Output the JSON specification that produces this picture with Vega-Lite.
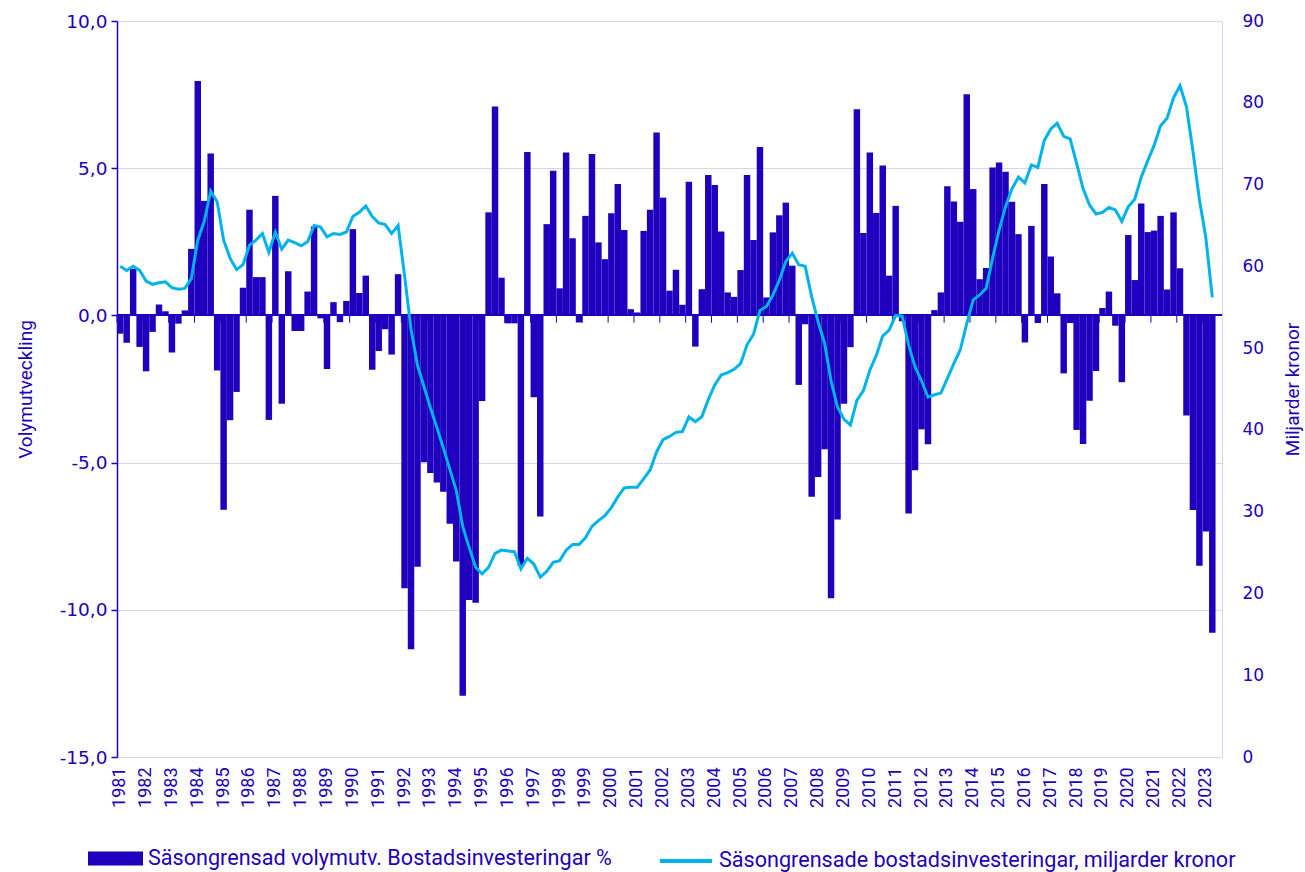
{
"$schema":"https://vega.github.io/schema/vega-lite/v6.json",
"width":1105,"height":736,
"autosize":{"type":"none"},
"padding":{"left":117,"top":21,"right":83,"bottom":115},
"background":"white",
"config":{"view":{"stroke":null},"font":"Roboto"},
"data":{"values":[
{"q":"1981Q1","v":-0.62,"m":60.0},{"q":"1981Q2","v":-0.93,"m":59.5},{"q":"1981Q3","v":1.58,"m":60.0},{"q":"1981Q4","v":-1.07,"m":59.5},
{"q":"1982Q1","v":-1.90,"m":58.2},{"q":"1982Q2","v":-0.56,"m":57.8},{"q":"1982Q3","v":0.37,"m":58.0},{"q":"1982Q4","v":0.14,"m":58.1},
{"q":"1983Q1","v":-1.26,"m":57.4},{"q":"1983Q2","v":-0.28,"m":57.2},{"q":"1983Q3","v":0.17,"m":57.3},{"q":"1983Q4","v":2.26,"m":58.5},
{"q":"1984Q1","v":7.96,"m":63.2},{"q":"1984Q2","v":3.89,"m":65.5},{"q":"1984Q3","v":5.50,"m":69.2},{"q":"1984Q4","v":-1.87,"m":67.9},
{"q":"1985Q1","v":-6.60,"m":63.2},{"q":"1985Q2","v":-3.56,"m":61.0},{"q":"1985Q3","v":-2.60,"m":59.6},{"q":"1985Q4","v":0.94,"m":60.2},
{"q":"1986Q1","v":3.59,"m":62.6},{"q":"1986Q2","v":1.30,"m":63.2},{"q":"1986Q3","v":1.30,"m":64.0},{"q":"1986Q4","v":-3.55,"m":61.7},
{"q":"1987Q1","v":4.06,"m":64.2},{"q":"1987Q2","v":-3.00,"m":62.1},{"q":"1987Q3","v":1.50,"m":63.2},{"q":"1987Q4","v":-0.53,"m":62.9},
{"q":"1988Q1","v":-0.53,"m":62.5},{"q":"1988Q2","v":0.81,"m":63.0},{"q":"1988Q3","v":3.02,"m":65.0},{"q":"1988Q4","v":-0.10,"m":64.8},
{"q":"1989Q1","v":-1.82,"m":63.6},{"q":"1989Q2","v":0.45,"m":64.0},{"q":"1989Q3","v":-0.23,"m":63.9},{"q":"1989Q4","v":0.49,"m":64.2},
{"q":"1990Q1","v":2.93,"m":66.1},{"q":"1990Q2","v":0.76,"m":66.6},{"q":"1990Q3","v":1.35,"m":67.4},{"q":"1990Q4","v":-1.85,"m":66.1},
{"q":"1991Q1","v":-1.21,"m":65.3},{"q":"1991Q2","v":-0.47,"m":65.1},{"q":"1991Q3","v":-1.33,"m":64.0},{"q":"1991Q4","v":1.40,"m":65.0},
{"q":"1992Q1","v":-9.27,"m":58.9},{"q":"1992Q2","v":-11.34,"m":52.3},{"q":"1992Q3","v":-8.54,"m":47.9},{"q":"1992Q4","v":-4.99,"m":45.3},
{"q":"1993Q1","v":-5.35,"m":42.7},{"q":"1993Q2","v":-5.68,"m":40.3},{"q":"1993Q3","v":-5.99,"m":37.8},{"q":"1993Q4","v":-7.08,"m":35.2},
{"q":"1994Q1","v":-8.36,"m":32.6},{"q":"1994Q2","v":-12.92,"m":28.2},{"q":"1994Q3","v":-9.67,"m":25.6},{"q":"1994Q4","v":-9.76,"m":23.2},
{"q":"1995Q1","v":-2.91,"m":22.4},{"q":"1995Q2","v":3.50,"m":23.2},{"q":"1995Q3","v":7.10,"m":24.9},{"q":"1995Q4","v":1.28,"m":25.3},
{"q":"1996Q1","v":-0.27,"m":25.2},{"q":"1996Q2","v":-0.27,"m":25.1},{"q":"1996Q3","v":-8.50,"m":23.0},{"q":"1996Q4","v":5.55,"m":24.3},
{"q":"1997Q1","v":-2.78,"m":23.6},{"q":"1997Q2","v":-6.83,"m":22.0},{"q":"1997Q3","v":3.10,"m":22.7},{"q":"1997Q4","v":4.91,"m":23.8},
{"q":"1998Q1","v":0.92,"m":24.0},{"q":"1998Q2","v":5.53,"m":25.3},{"q":"1998Q3","v":2.62,"m":26.0},{"q":"1998Q4","v":-0.24,"m":26.0},
{"q":"1999Q1","v":3.38,"m":26.8},{"q":"1999Q2","v":5.48,"m":28.2},{"q":"1999Q3","v":2.48,"m":28.9},{"q":"1999Q4","v":1.91,"m":29.5},
{"q":"2000Q1","v":3.47,"m":30.5},{"q":"2000Q2","v":4.46,"m":31.8},{"q":"2000Q3","v":2.90,"m":32.9},{"q":"2000Q4","v":0.21,"m":33.0},
{"q":"2001Q1","v":0.10,"m":33.0},{"q":"2001Q2","v":2.87,"m":34.0},{"q":"2001Q3","v":3.59,"m":35.1},{"q":"2001Q4","v":6.21,"m":37.3},
{"q":"2002Q1","v":4.00,"m":38.8},{"q":"2002Q2","v":0.84,"m":39.2},{"q":"2002Q3","v":1.55,"m":39.7},{"q":"2002Q4","v":0.36,"m":39.8},
{"q":"2003Q1","v":4.54,"m":41.6},{"q":"2003Q2","v":-1.06,"m":41.0},{"q":"2003Q3","v":0.89,"m":41.6},{"q":"2003Q4","v":4.77,"m":43.7},
{"q":"2004Q1","v":4.43,"m":45.5},{"q":"2004Q2","v":2.85,"m":46.7},{"q":"2004Q3","v":0.78,"m":47.0},{"q":"2004Q4","v":0.63,"m":47.4},
{"q":"2005Q1","v":1.54,"m":48.1},{"q":"2005Q2","v":4.77,"m":50.4},{"q":"2005Q3","v":2.56,"m":51.7},{"q":"2005Q4","v":5.72,"m":54.6},
{"q":"2006Q1","v":0.61,"m":55.1},{"q":"2006Q2","v":2.82,"m":56.5},{"q":"2006Q3","v":3.40,"m":58.3},{"q":"2006Q4","v":3.83,"m":60.6},
{"q":"2007Q1","v":1.69,"m":61.6},{"q":"2007Q2","v":-2.36,"m":60.2},{"q":"2007Q3","v":-0.30,"m":60.0},{"q":"2007Q4","v":-6.16,"m":56.3},
{"q":"2008Q1","v":-5.49,"m":53.2},{"q":"2008Q2","v":-4.55,"m":50.6},{"q":"2008Q3","v":-9.61,"m":46.0},{"q":"2008Q4","v":-6.93,"m":42.8},
{"q":"2009Q1","v":-3.00,"m":41.3},{"q":"2009Q2","v":-1.08,"m":40.6},{"q":"2009Q3","v":7.00,"m":43.6},{"q":"2009Q4","v":2.80,"m":44.8},
{"q":"2010Q1","v":5.53,"m":47.3},{"q":"2010Q2","v":3.48,"m":49.1},{"q":"2010Q3","v":5.09,"m":51.5},{"q":"2010Q4","v":1.35,"m":52.2},
{"q":"2011Q1","v":3.72,"m":54.0},{"q":"2011Q2","v":-0.20,"m":53.9},{"q":"2011Q3","v":-6.73,"m":50.4},{"q":"2011Q4","v":-5.26,"m":47.7},
{"q":"2012Q1","v":-3.87,"m":46.0},{"q":"2012Q2","v":-4.38,"m":44.0},{"q":"2012Q3","v":0.18,"m":44.3},{"q":"2012Q4","v":0.78,"m":44.5},
{"q":"2013Q1","v":4.39,"m":46.3},{"q":"2013Q2","v":3.87,"m":48.1},{"q":"2013Q3","v":3.18,"m":49.8},{"q":"2013Q4","v":7.51,"m":53.0},
{"q":"2014Q1","v":4.29,"m":55.9},{"q":"2014Q2","v":1.23,"m":56.5},{"q":"2014Q3","v":1.61,"m":57.3},{"q":"2014Q4","v":5.02,"m":61.0},
{"q":"2015Q1","v":5.19,"m":64.4},{"q":"2015Q2","v":4.88,"m":67.3},{"q":"2015Q3","v":3.86,"m":69.5},{"q":"2015Q4","v":2.76,"m":70.9},
{"q":"2016Q1","v":-0.92,"m":70.2},{"q":"2016Q2","v":3.04,"m":72.4},{"q":"2016Q3","v":-0.26,"m":72.1},{"q":"2016Q4","v":4.46,"m":75.4},
{"q":"2017Q1","v":2.00,"m":76.8},{"q":"2017Q2","v":0.75,"m":77.5},{"q":"2017Q3","v":-1.97,"m":75.9},{"q":"2017Q4","v":-0.26,"m":75.6},
{"q":"2018Q1","v":-3.89,"m":72.6},{"q":"2018Q2","v":-4.37,"m":69.5},{"q":"2018Q3","v":-2.90,"m":67.5},{"q":"2018Q4","v":-1.89,"m":66.4},
{"q":"2019Q1","v":0.25,"m":66.6},{"q":"2019Q2","v":0.81,"m":67.2},{"q":"2019Q3","v":-0.35,"m":66.9},{"q":"2019Q4","v":-2.27,"m":65.5},
{"q":"2020Q1","v":2.73,"m":67.3},{"q":"2020Q2","v":1.20,"m":68.2},{"q":"2020Q3","v":3.80,"m":70.9},{"q":"2020Q4","v":2.83,"m":72.9},
{"q":"2021Q1","v":2.88,"m":74.8},{"q":"2021Q2","v":3.38,"m":77.2},{"q":"2021Q3","v":0.88,"m":78.1},{"q":"2021Q4","v":3.50,"m":80.6},
{"q":"2022Q1","v":1.60,"m":82.1},{"q":"2022Q2","v":-3.40,"m":79.5},{"q":"2022Q3","v":-6.61,"m":74.1},{"q":"2022Q4","v":-8.50,"m":68.2},
{"q":"2023Q1","v":-7.34,"m":63.5},{"q":"2023Q2","v":-10.78,"m":56.2},{"q":"2023Q3"}
]},
"layer":[
{"layer":[
{"mark":{"type":"bar"},
"encoding":{
"x":{"field":"q","type":"ordinal",
"scale":{"domain":["1981Q1","1981Q2","1981Q3","1981Q4","1982Q1","1982Q2","1982Q3","1982Q4","1983Q1","1983Q2","1983Q3","1983Q4","1984Q1","1984Q2","1984Q3","1984Q4","1985Q1","1985Q2","1985Q3","1985Q4","1986Q1","1986Q2","1986Q3","1986Q4","1987Q1","1987Q2","1987Q3","1987Q4","1988Q1","1988Q2","1988Q3","1988Q4","1989Q1","1989Q2","1989Q3","1989Q4","1990Q1","1990Q2","1990Q3","1990Q4","1991Q1","1991Q2","1991Q3","1991Q4","1992Q1","1992Q2","1992Q3","1992Q4","1993Q1","1993Q2","1993Q3","1993Q4","1994Q1","1994Q2","1994Q3","1994Q4","1995Q1","1995Q2","1995Q3","1995Q4","1996Q1","1996Q2","1996Q3","1996Q4","1997Q1","1997Q2","1997Q3","1997Q4","1998Q1","1998Q2","1998Q3","1998Q4","1999Q1","1999Q2","1999Q3","1999Q4","2000Q1","2000Q2","2000Q3","2000Q4","2001Q1","2001Q2","2001Q3","2001Q4","2002Q1","2002Q2","2002Q3","2002Q4","2003Q1","2003Q2","2003Q3","2003Q4","2004Q1","2004Q2","2004Q3","2004Q4","2005Q1","2005Q2","2005Q3","2005Q4","2006Q1","2006Q2","2006Q3","2006Q4","2007Q1","2007Q2","2007Q3","2007Q4","2008Q1","2008Q2","2008Q3","2008Q4","2009Q1","2009Q2","2009Q3","2009Q4","2010Q1","2010Q2","2010Q3","2010Q4","2011Q1","2011Q2","2011Q3","2011Q4","2012Q1","2012Q2","2012Q3","2012Q4","2013Q1","2013Q2","2013Q3","2013Q4","2014Q1","2014Q2","2014Q3","2014Q4","2015Q1","2015Q2","2015Q3","2015Q4","2016Q1","2016Q2","2016Q3","2016Q4","2017Q1","2017Q2","2017Q3","2017Q4","2018Q1","2018Q2","2018Q3","2018Q4","2019Q1","2019Q2","2019Q3","2019Q4","2020Q1","2020Q2","2020Q3","2020Q4","2021Q1","2021Q2","2021Q3","2021Q4","2022Q1","2022Q2","2022Q3","2022Q4","2023Q1","2023Q2","2023Q3"],"paddingInner":0,"paddingOuter":0},
"axis":{"title":null,"labelExpr":"substring(datum.value,4,6) == 'Q1' ? substring(datum.value,0,4) : ''","labelAngle":270,"labelOverlap":false,"labelFont":"Roboto","labelFontSize":18,"labelColor":"#1E00BE","labelPadding":10,"domain":false,"ticks":false,"grid":false}},
"y":{"field":"v","type":"quantitative","scale":{"domain":[-15,10],"nice":false,"zero":false},
"axis":{"title":"Volymutveckling","values":[-15,-10,-5,0,5,10],"labelExpr":"replace(replace(format(datum.value,'.1f'),'.',','),'−','-')","grid":true,"gridColor":"#D5D5F0","gridWidth":1,"domainColor":"#1E00BE","domainWidth":1.5,"tickColor":"#1E00BE","tickSize":6,"tickWidth":1.5,"labelFont":"DejaVu Sans","labelFontSize":18.5,"labelColor":"#1E00BE","labelPadding":4,"labelFlush":false,"labelOverlap":false,"titleFont":"Roboto","titleFontSize":19,"titleFontWeight":"normal","titleColor":"#1E00BE","titlePadding":24}},
"color":{"datum":"Säsongrensad volymutv. Bostadsinvesteringar %","scale":{"range":["#1E00BE"]},
"legend":{"orient":"none","legendX":-29,"legendY":810,"title":null,"symbolType":"M-1,-0.255L1,-0.255L1,0.255L-1,0.255Z","symbolSize":3025,"symbolStrokeWidth":0,"labelFont":"Roboto","labelFontSize":21.6,"labelColor":"#1E00BE","labelOffset":5,"labelLimit":0,"padding":0}}}},
{"mark":{"type":"rule","color":"#1E00BE","strokeWidth":1},
"encoding":{"y":{"datum":0,"type":"quantitative","scale":{"domain":[-15,10],"nice":false,"zero":false}}}},
{"transform":[{"filter":"substring(datum.q,4,6) == 'Q1'"}],
"mark":{"type":"rule","color":"#1E00BE","strokeWidth":1},
"encoding":{"x":{"field":"q","type":"ordinal","bandPosition":0},
"y":{"datum":0,"type":"quantitative","scale":{"domain":[-15,10],"nice":false,"zero":false}},
"y2":{"datum":-0.25}}}
]},
{"mark":{"type":"line","strokeWidth":3},
"encoding":{
"x":{"field":"q","type":"ordinal"},
"y":{"field":"m","type":"quantitative","scale":{"domain":[0,90],"nice":false},
"axis":{"orient":"right","title":"Miljarder kronor","values":[0,10,20,30,40,50,60,70,80,90],"grid":false,"domainColor":"#D5D5F0","domainWidth":1,"ticks":false,"labelPadding":20,"labelFont":"DejaVu Sans","labelFontSize":17,"labelColor":"#1E00BE","labelFlush":false,"labelOverlap":false,"titleFont":"Roboto","titleFontSize":19,"titleFontWeight":"normal","titleColor":"#1E00BE","titleAngle":270,"titleBaseline":"top","titlePadding":20}},
"color":{"datum":"Säsongrensade bostadsinvesteringar, miljarder kronor","scale":{"range":["#00B4EB"]},
"legend":{"orient":"none","legendX":541,"legendY":812,"title":null,"symbolType":"stroke","symbolSize":2704,"symbolStrokeWidth":4,"labelFont":"Roboto","labelFontSize":21.6,"labelColor":"#1E00BE","labelOffset":5,"labelLimit":0,"padding":0}}}}
],
"resolve":{"scale":{"y":"independent","color":"independent"},"axis":{"y":"independent"}}
}
